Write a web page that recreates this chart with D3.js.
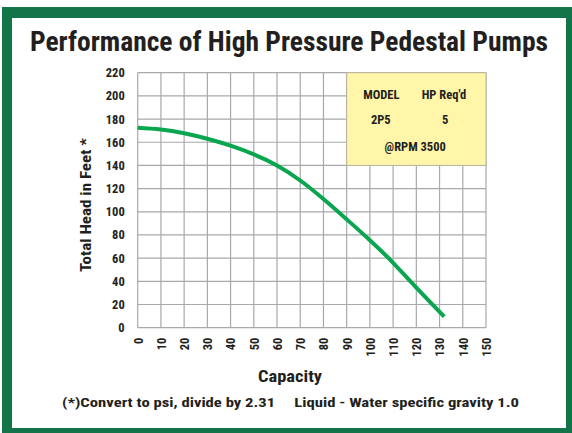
<!DOCTYPE html>
<html>
<head>
<meta charset="utf-8">
<script src="https://cdn.jsdelivr.net/npm/d3@7"></script>
<style>
  body { margin: 0; background: #fff; }
  svg text { font-family: "Liberation Sans Narrow", "Roboto Condensed", "DejaVu Sans Condensed", "Liberation Sans", sans-serif; font-weight: bold; fill: #231f20; }
</style>
</head>
<body>
<div id="chart"></div>
<script>
// pump curve: capacity vs total head (feet)
const capacity = [0, 10, 20, 30, 40, 50, 60, 70, 80, 90, 100, 110, 120, 132];
const head = [172.5, 171, 167.8, 163, 157, 149.5, 140, 127, 111, 93.5, 75.5, 56, 34.5, 9.5];

const xTicks = d3.range(0, 151, 10);
const yTicks = d3.range(0, 221, 20);

const legendHeader = ["MODEL", "HP Req'd"];
const legendRow = ["2P5", "5"];
const legendFooter = "@RPM 3500";

const W = 572, H = 433;
const margin = { top: 72.7, right: 86, bottom: 105.3, left: 137.7 };
const width = W - margin.left - margin.right;
const height = H - margin.top - margin.bottom;

const svg = d3.select("#chart").append("svg")
    .attr("width", W)
    .attr("height", H);

// green frame
svg.append("rect").attr("x", 2).attr("y", 7).attr("width", 570).attr("height", 426).attr("fill", "#13744a");
svg.append("rect").attr("x", 12).attr("y", 18).attr("width", 554).attr("height", 410).attr("fill", "#fff");

svg.append("text")
    .attr("x", 289).attr("y", 51)
    .attr("text-anchor", "middle")
    .attr("textLength", 518).attr("lengthAdjust", "spacingAndGlyphs")
    .style("font-size", "27px")
    .text("Performance of High Pressure Pedestal Pumps");

const g = svg.append("g").attr("transform", "translate(" + margin.left + "," + margin.top + ")");

const x = d3.scaleLinear().domain([0, 150]).range([0, width]);
const y = d3.scaleLinear().domain([0, 220]).range([height, 0]);

// grid
g.selectAll(".vgrid").data(xTicks).enter().append("line")
    .attr("x1", d => x(d)).attr("x2", d => x(d))
    .attr("y1", 0).attr("y2", height)
    .attr("stroke", "#a7a9ac").attr("stroke-width", 1.2);
g.selectAll(".hgrid").data(yTicks).enter().append("line")
    .attr("x1", 0).attr("x2", width)
    .attr("y1", d => y(d)).attr("y2", d => y(d))
    .attr("stroke", "#a7a9ac").attr("stroke-width", 1.2);

// legend box
const lg = g.append("g");
lg.append("rect")
    .attr("x", x(90)).attr("y", y(220))
    .attr("width", x(150) - x(90)).attr("height", y(140) - y(220))
    .attr("fill", "#fff6a9").attr("stroke", "#b9b79a").attr("stroke-width", 1);
lg.selectAll(".lh").data(legendHeader).enter().append("text")
    .attr("x", (d, i) => [x(104.9), x(131.9)][i]).attr("y", y(197.5))
    .attr("text-anchor", "middle").style("font-size", "12.5px")
    .text(d => d);
lg.selectAll(".lr").data(legendRow).enter().append("text")
    .attr("x", (d, i) => [x(104.7), x(132.4)][i]).attr("y", y(175.5))
    .attr("text-anchor", "middle").style("font-size", "12.5px")
    .text(d => d);
lg.append("text")
    .attr("x", x(119.5)).attr("y", y(152.5))
    .attr("text-anchor", "middle").style("font-size", "12.5px")
    .text(legendFooter);

// axes
const yAxis = d3.axisLeft(y).tickValues(yTicks).tickSize(0).tickPadding(13);
g.append("g").call(yAxis).call(a => a.select(".domain").remove())
    .selectAll("text").style("font-size", "12.5px").attr("fill", "#231f20");

const xAxis = d3.axisBottom(x).tickValues(xTicks).tickSize(0);
g.append("g").attr("transform", "translate(0," + height + ")")
    .call(xAxis).call(a => a.select(".domain").remove())
    .selectAll("text")
    .style("font-size", "12.5px").attr("fill", "#231f20")
    .attr("text-anchor", "end")
    .attr("dy", "0.35em")
    .attr("transform", d => "translate(0,10) rotate(-90)")
    .attr("x", 0).attr("y", 0);

// curve
const line = d3.line().x((d, i) => x(capacity[i])).y(d => y(d)).curve(d3.curveNatural);
g.append("path").datum(head)
    .attr("d", line)
    .attr("fill", "none").attr("stroke", "#0aa64f").attr("stroke-width", 4);

// axis titles
svg.append("text")
    .attr("transform", "translate(91,205) rotate(-90)")
    .attr("text-anchor", "middle").style("font-size", "14.5px")
    .attr("textLength", 134).attr("lengthAdjust", "spacingAndGlyphs")
    .text("Total Head in Feet *");

svg.append("text")
    .attr("x", 290).attr("y", 382)
    .attr("text-anchor", "middle").style("font-size", "16.5px")
    .attr("textLength", 64).attr("lengthAdjust", "spacingAndGlyphs")
    .text("Capacity");

svg.append("text")
    .attr("x", 290.5).attr("y", 407)
    .attr("text-anchor", "middle").style("font-size", "13.5px")
    .attr("xml:space", "preserve")
    .attr("textLength", 457).attr("lengthAdjust", "spacingAndGlyphs")
    .text("(*)Convert to psi, divide by 2.31     Liquid - Water specific gravity 1.0");
</script>
</body>
</html>
